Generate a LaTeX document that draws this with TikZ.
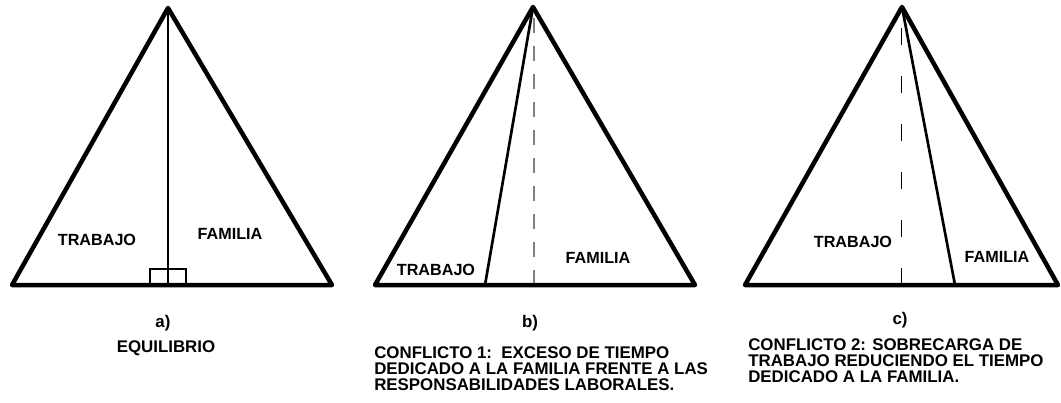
\documentclass[tikz,border=0pt]{standalone}
\usepackage{fontspec}
\setmainfont{Liberation Sans}
\usetikzlibrary{calc}
\tikzset{
  tri/.style     = {line width=3.2pt, line join=round, line cap=round},
  splitln/.style = {line width=1.9pt},
  sqr/.style     = {line width=1.4pt},
  axisb/.style   = {gray, line width=1pt, dash pattern=on 10.7pt off 9.2pt},
  axisc/.style   = {line width=0.7pt, dash pattern=on 12.1pt off 22pt},
  lbl/.style     = {font=\bfseries\fontsize{11.5}{13}\selectfont, inner sep=0pt},
  capt/.style    = {font=\bfseries\fontsize{12}{11.6}\selectfont, inner sep=0pt, align=left},
}
\begin{document}
\begin{tikzpicture}[x=0.025cm, y=-0.025cm]
  \useasboundingbox (0,0) rectangle (1061,402);

  % a) equilibrio
  \coordinate (a-top)   at (168,8);
  \coordinate (a-left)  at (12,285);
  \coordinate (a-right) at (332,285);
  \coordinate (a-foot)  at (168,285);
  \draw[tri] (a-left) -- (a-right) -- (a-top) -- cycle;
  \draw[splitln] (a-top) -- (a-foot);
  \draw[sqr] ($(a-foot)+(-18,0)$) rectangle ($(a-foot)+(0,-16)$);
  \draw[sqr] (a-foot) rectangle ($(a-foot)+(18,-16)$);
  \node[lbl] (a-trab) at (97,240)  {TRABAJO};
  \node[lbl] (a-fam)  at (230,234) {FAMILIA};
  \node[capt] (a-tag) at (163,323) {a)};
  \node[capt] (a-txt) at (166,348) {EQUILIBRIO};

  % b) conflicto 1
  \coordinate (b-top)   at (533,7);
  \coordinate (b-left)  at (375,285);
  \coordinate (b-right) at (695,285);
  \coordinate (b-split) at (485,285);
  \coordinate (b-foot)  at (534,285);
  \draw[axisb] (b-foot) -- (534,12);
  \draw[tri] (b-left) -- (b-right) -- (b-top) -- cycle;
  \draw[splitln] (b-top) -- (b-split);
  \node[lbl] (b-trab) at (436,270) {TRABAJO};
  \node[lbl] (b-fam)  at (598,258) {FAMILIA};
  \node[capt] (b-tag) at (530,323) {b)};
  \node[capt, anchor=north west] (b-txt) at (374,346)
    {CONFLICTO 1:\ \ EXCESO DE TIEMPO\\DEDICADO A LA FAMILIA FRENTE A LAS\\RESPONSABILIDADES LABORALES.};

  % c) conflicto 2
  \coordinate (c-top)   at (902,7);
  \coordinate (c-left)  at (745,285);
  \coordinate (c-right) at (1058,285);
  \coordinate (c-split) at (955,285);
  \coordinate (c-foot)  at (901,285);
  \draw[axisc] (c-foot) -- (901,12);
  \draw[tri] (c-left) -- (c-right) -- (c-top) -- cycle;
  \draw[splitln] (c-top) -- (c-split);
  \node[lbl] (c-trab) at (853,242) {TRABAJO};
  \node[lbl] (c-fam)  at (997,257) {FAMILIA};
  \node[capt] (c-tag) at (900,320) {c)};
  \node[capt, anchor=north west] (c-txt) at (748,338)
    {CONFLICTO 2: SOBRECARGA DE\\TRABAJO REDUCIENDO EL TIEMPO\\DEDICADO A LA FAMILIA.};
\end{tikzpicture}
\end{document}
